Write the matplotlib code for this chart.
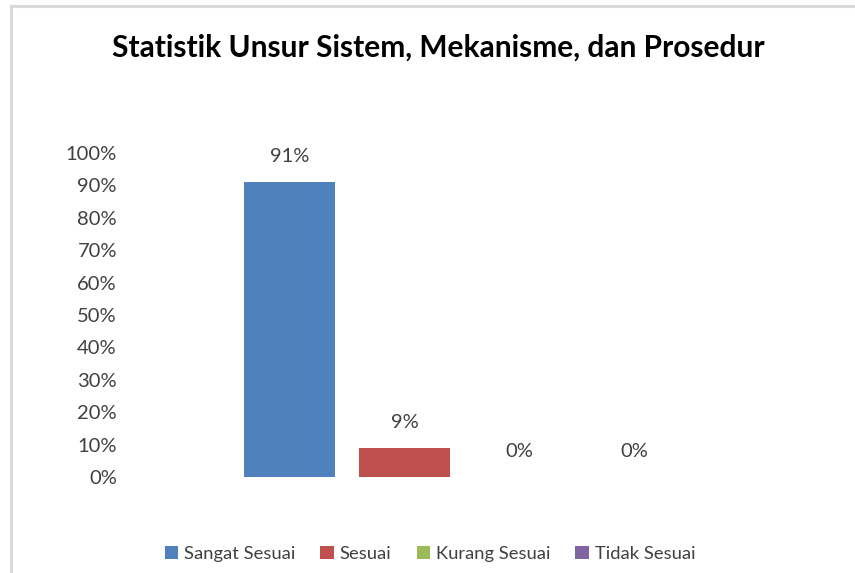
import matplotlib.pyplot as plt
from matplotlib.lines import Line2D
import numpy as np

plt.rcParams['font.family'] = ['Lato', 'DejaVu Sans']

title = "Statistik Unsur Sistem, Mekanisme, dan Prosedur"
labels = ["Sangat Sesuai", "Sesuai", "Kurang Sesuai", "Tidak Sesuai"]
values = [0.91, 0.09, 0.0, 0.0]
colors = ["#4f81bd", "#c0504d", "#9bbb59", "#8064a2"]
yticks = np.arange(0, 1.01, 0.1)

fig = plt.figure(figsize=(8.55, 5.73), dpi=100)
ax = fig.add_axes([128/855, 96/573, 668/855, 324/573])

x = np.arange(len(labels))
for i in range(len(labels)):
    ax.bar(x[i], values[i], width=0.79, color=colors[i], label=labels[i])
    ax.annotate(f"{values[i]*100:.0f}%", (x[i], values[i]), xytext=(0, 12),
                textcoords="offset points", ha="center", va="bottom",
                fontsize=14.5, color="#404040")

ax.set_xlim(-1.404, 4.404)
ax.set_ylim(0, 1)
ax.set_yticks(yticks)
ax.set_yticklabels([f"{t*100:.0f}%" for t in yticks], fontsize=14.5, color="#404040")
ax.set_xticks([])
ax.tick_params(axis='y', length=0, pad=8)
for s in ax.spines.values():
    s.set_visible(False)

fig.text(438/855, 1 - 48/573, title, ha="center", va="center",
         fontsize=21.5, fontweight="bold", color="black")

leg = fig.legend(loc="center", bbox_to_anchor=(430/855, 1 - 554/573), ncol=4,
                 frameon=False, fontsize=13.2, handlelength=0.75, handleheight=0.75,
                 handletextpad=0.3, columnspacing=1.37, labelcolor="#404040")

# chart border (light gray, only top and left visible)
fig.add_artist(Line2D([11/855, 1], [1 - 6/573, 1 - 6/573], color="#d9d9d9", lw=2.2))
fig.add_artist(Line2D([11/855, 11/855], [0, 1 - 6/573], color="#d9d9d9", lw=2.2))

fig.savefig("out.png", dpi=100)
